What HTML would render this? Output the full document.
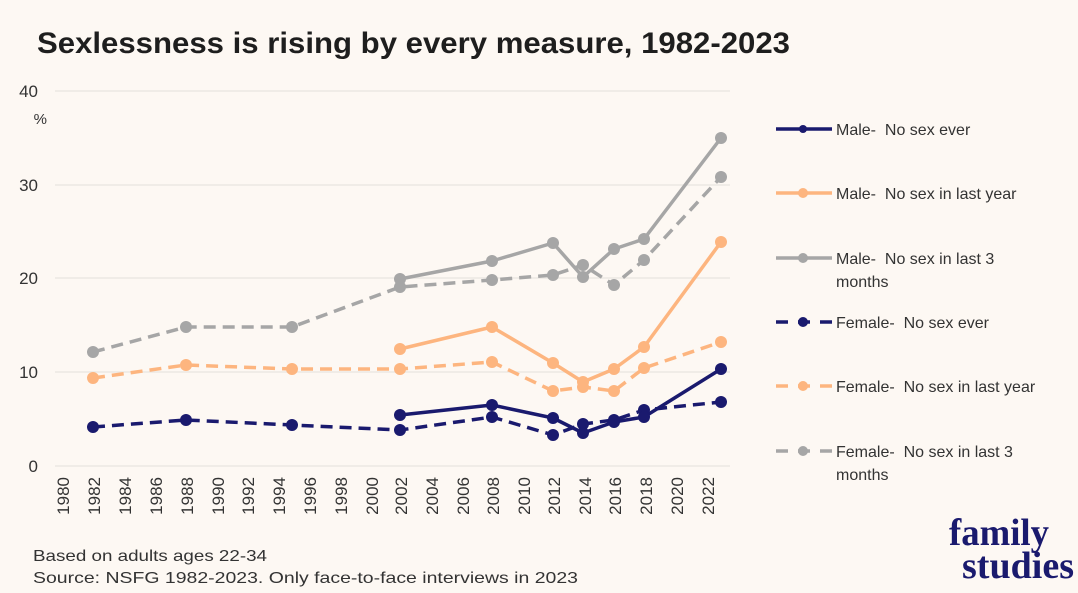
<!DOCTYPE html>
<html><head><meta charset="utf-8"><style>
html,body{margin:0;padding:0;background:#fdf8f3;}
svg{display:block;font-family:"Liberation Sans",sans-serif;}
text{white-space:pre;}
</style></head><body>
<svg width="1078" height="593" viewBox="0 0 1078 593" xmlns="http://www.w3.org/2000/svg">
<rect width="1078" height="593" fill="#fdf8f3"/>
<text x="37" y="53" font-size="30" font-weight="bold" fill="#1e1e1e" textLength="753" lengthAdjust="spacingAndGlyphs">Sexlessness is rising by every measure, 1982-2023</text>
<g stroke="#ebe7e3" stroke-width="1.5">
<line x1="55" y1="91" x2="730" y2="91"/><line x1="55" y1="185" x2="730" y2="185"/>
<line x1="55" y1="278" x2="730" y2="278"/><line x1="55" y1="372" x2="730" y2="372"/>
<line x1="55" y1="466" x2="730" y2="466"/>
</g>
<g font-size="17" fill="#333" text-anchor="end">
<text x="38" y="97">40</text><text x="38" y="191">30</text><text x="38" y="284">20</text><text x="38" y="378">10</text><text x="38" y="472">0</text>
</g>
<text x="47" y="124" font-size="15" fill="#333" text-anchor="end">%</text>
<g font-size="17" fill="#333" text-anchor="end">
<text transform="translate(69,477) rotate(-90)">1980</text>
<text transform="translate(100,477) rotate(-90)">1982</text>
<text transform="translate(131,477) rotate(-90)">1984</text>
<text transform="translate(162,477) rotate(-90)">1986</text>
<text transform="translate(193,477) rotate(-90)">1988</text>
<text transform="translate(224,477) rotate(-90)">1990</text>
<text transform="translate(254,477) rotate(-90)">1992</text>
<text transform="translate(285,477) rotate(-90)">1994</text>
<text transform="translate(316,477) rotate(-90)">1996</text>
<text transform="translate(347,477) rotate(-90)">1998</text>
<text transform="translate(378,477) rotate(-90)">2000</text>
<text transform="translate(407,477) rotate(-90)">2002</text>
<text transform="translate(438,477) rotate(-90)">2004</text>
<text transform="translate(469,477) rotate(-90)">2006</text>
<text transform="translate(499,477) rotate(-90)">2008</text>
<text transform="translate(530,477) rotate(-90)">2010</text>
<text transform="translate(560,477) rotate(-90)">2012</text>
<text transform="translate(591,477) rotate(-90)">2014</text>
<text transform="translate(621,477) rotate(-90)">2016</text>
<text transform="translate(652,477) rotate(-90)">2018</text>
<text transform="translate(683,477) rotate(-90)">2020</text>
<text transform="translate(714,477) rotate(-90)">2022</text>
</g>
<g fill="none" stroke-width="3.5" stroke-linejoin="round">
<polyline stroke="#a6a6a6" stroke-dasharray="12,7" points="93,352 186,327 292,327 400,287 492,280 553,275 583,265 614,285 644,260 721,177"/>
<polyline stroke="#a6a6a6" points="400,279 492,261 553,243 583,277 614,249 644,239 721,138"/>
<polyline stroke="#fdb57f" stroke-dasharray="12,7" points="93,378 186,365 292,369 400,369 492,362 553,391 583,387 614,391 644,368 721,342"/>
<polyline stroke="#fdb57f" points="400,349 492,327 553,363 583,382 614,369 644,347 721,242"/>
<polyline stroke="#1a1a6e" stroke-dasharray="12,7" points="93,427 186,420 292,425 400,430 492,417 553,435 583,424 614,420 644,410 721,402"/>
<polyline stroke="#1a1a6e" points="400,415 492,405 553,418 583,433 614,422 644,417 721,369"/>
</g>
<g fill="#a6a6a6"><circle cx="93" cy="352" r="6"/><circle cx="186" cy="327" r="6"/><circle cx="292" cy="327" r="6"/><circle cx="400" cy="287" r="6"/><circle cx="492" cy="280" r="6"/><circle cx="553" cy="275" r="6"/><circle cx="583" cy="265" r="6"/><circle cx="614" cy="285" r="6"/><circle cx="644" cy="260" r="6"/><circle cx="721" cy="177" r="6"/>
<circle cx="400" cy="279" r="6"/><circle cx="492" cy="261" r="6"/><circle cx="553" cy="243" r="6"/><circle cx="583" cy="277" r="6"/><circle cx="614" cy="249" r="6"/><circle cx="644" cy="239" r="6"/><circle cx="721" cy="138" r="6"/></g>
<g fill="#fdb57f"><circle cx="93" cy="378" r="6"/><circle cx="186" cy="365" r="6"/><circle cx="292" cy="369" r="6"/><circle cx="400" cy="369" r="6"/><circle cx="492" cy="362" r="6"/><circle cx="553" cy="391" r="6"/><circle cx="583" cy="387" r="6"/><circle cx="614" cy="391" r="6"/><circle cx="644" cy="368" r="6"/><circle cx="721" cy="342" r="6"/>
<circle cx="400" cy="349" r="6"/><circle cx="492" cy="327" r="6"/><circle cx="553" cy="363" r="6"/><circle cx="583" cy="382" r="6"/><circle cx="614" cy="369" r="6"/><circle cx="644" cy="347" r="6"/><circle cx="721" cy="242" r="6"/></g>
<g fill="#1a1a6e"><circle cx="93" cy="427" r="6"/><circle cx="186" cy="420" r="6"/><circle cx="292" cy="425" r="6"/><circle cx="400" cy="430" r="6"/><circle cx="492" cy="417" r="6"/><circle cx="553" cy="435" r="6"/><circle cx="583" cy="424" r="6"/><circle cx="614" cy="420" r="6"/><circle cx="644" cy="410" r="6"/><circle cx="721" cy="402" r="6"/>
<circle cx="400" cy="415" r="6"/><circle cx="492" cy="405" r="6"/><circle cx="553" cy="418" r="6"/><circle cx="583" cy="433" r="6"/><circle cx="614" cy="422" r="6"/><circle cx="644" cy="417" r="6"/><circle cx="721" cy="369" r="6"/></g>
<g stroke-width="3.5">
<line x1="776" y1="129" x2="832" y2="129" stroke="#1a1a6e"/>
<line x1="776" y1="193" x2="832" y2="193" stroke="#fdb57f"/>
<line x1="776" y1="258" x2="832" y2="258" stroke="#a6a6a6"/>
<line x1="776" y1="322" x2="832" y2="322" stroke="#1a1a6e" stroke-dasharray="12,10"/>
<line x1="776" y1="386" x2="832" y2="386" stroke="#fdb57f" stroke-dasharray="12,10"/>
<line x1="776" y1="451" x2="832" y2="451" stroke="#a6a6a6" stroke-dasharray="12,10"/>
</g>
<circle cx="803" cy="129" r="4" fill="#1a1a6e"/><circle cx="803" cy="193" r="5" fill="#fdb57f"/><circle cx="803" cy="258" r="5" fill="#a6a6a6"/>
<circle cx="803" cy="322" r="5" fill="#1a1a6e"/><circle cx="803" cy="386" r="5" fill="#fdb57f"/><circle cx="803" cy="451" r="5" fill="#a6a6a6"/>
<g font-size="16" fill="#333">
<text x="836" y="135">Male-  No sex ever</text>
<text x="836" y="199">Male-  No sex in last year</text>
<text x="836" y="264">Male-  No sex in last 3</text><text x="836" y="287">months</text>
<text x="836" y="328">Female-  No sex ever</text>
<text x="836" y="392">Female-  No sex in last year</text>
<text x="836" y="457">Female-  No sex in last 3</text><text x="836" y="480">months</text>
</g>
<g font-size="16" fill="#333">
<text x="33" y="561" textLength="234" lengthAdjust="spacingAndGlyphs">Based on adults ages 22-34</text>
<text x="33" y="583" textLength="545" lengthAdjust="spacingAndGlyphs">Source: NSFG 1982-2023. Only face-to-face interviews in 2023</text>
</g>
<g font-family="'Liberation Serif',serif" font-weight="bold" fill="#1a1a6e" font-size="38">
<text x="949" y="545" textLength="100" lengthAdjust="spacingAndGlyphs">family</text>
<text x="962" y="578" textLength="112" lengthAdjust="spacingAndGlyphs">studies</text>
</g>
</svg>
</body></html>
